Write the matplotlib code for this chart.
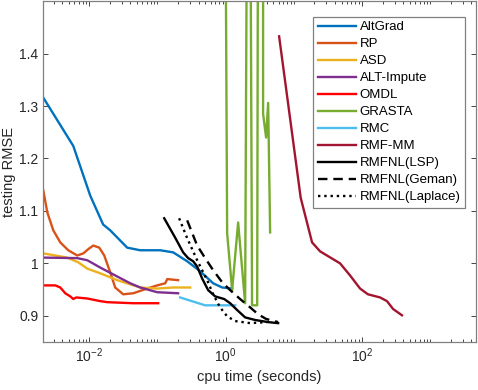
import numpy as np
import matplotlib
matplotlib.use("Agg")
import matplotlib.pyplot as plt
from matplotlib.ticker import FixedLocator, LogLocator, FuncFormatter, NullFormatter

plt.rcParams['font.family'] = ['Liberation Sans', 'DejaVu Sans']
plt.rcParams['mathtext.fontset'] = 'custom'
plt.rcParams['mathtext.rm'] = 'Liberation Sans'
plt.rcParams['mathtext.it'] = 'Liberation Sans:italic'

# cpu time (s) / testing RMSE
altgrad_t = [0.00212, 0.00583, 0.01035, 0.0160, 0.0203, 0.0360, 0.0559, 0.1097, 0.170, 0.273, 0.423, 0.656, 0.889, 1.245]
altgrad_y = [1.316, 1.224, 1.129, 1.074, 1.063, 1.030, 1.025, 1.025, 1.021, 1.004, 0.985, 0.962, 0.954, 0.952]

rp_t = [0.00212, 0.00243, 0.00297, 0.00376, 0.00492, 0.00667, 0.00817, 0.00966, 0.01145, 0.01402,
        0.0166, 0.0203, 0.0240, 0.0315, 0.0441, 0.0708, 0.0991, 0.130, 0.139, 0.201]
rp_y = [1.139, 1.097, 1.063, 1.040, 1.025, 1.015, 1.019, 1.027, 1.034, 1.030,
        1.015, 0.983, 0.954, 0.941, 0.943, 0.952, 0.958, 0.962, 0.970, 0.968]

asd_t = [0.00212, 0.00476, 0.00690, 0.00935, 0.0145, 0.0257, 0.0399, 0.0559, 0.0991, 0.170, 0.302]
asd_y = [1.019, 1.011, 1.002, 0.990, 0.981, 0.968, 0.960, 0.954, 0.952, 0.954, 0.954]

alt_t = [0.00212, 0.00667, 0.00935, 0.0145, 0.0257, 0.0399, 0.0559, 0.0991, 0.201]
alt_y = [1.011, 1.010, 1.006, 0.992, 0.975, 0.962, 0.954, 0.945, 0.943]

omdl_t = [0.00212, 0.00318, 0.00376, 0.00445, 0.00527, 0.00583, 0.00645, 0.00935, 0.0145, 0.0184, 0.0441, 0.1025]
omdl_y = [0.958, 0.958, 0.954, 0.943, 0.937, 0.932, 0.935, 0.933, 0.928, 0.926, 0.924, 0.924]

grasta_t = [0.984, 1.052, 1.245, 1.524, 1.930, 2.07, 2.29, 2.44, 2.90, 2.99, 3.54, 3.54, 3.92, 4.20, 4.49]
grasta_y = [1.8, 1.057, 0.949, 1.078, 0.924, 1.8, 1.8, 0.920, 0.920, 1.8, 1.8, 1.285, 1.240, 1.306, 1.059]

rmc_t = [0.215, 0.357, 0.501, 1.378]
rmc_y = [0.935, 0.926, 0.920, 0.920]

rmfmm_t = [6.08, 12.6, 18.5, 24.2, 47.6, 66.7, 93.5, 122, 184, 232, 285, 385]
rmfmm_y = [1.433, 1.125, 1.040, 1.023, 1.000, 0.977, 0.952, 0.941, 0.935, 0.928, 0.913, 0.901]

lsp_t = [0.1256, 0.182, 0.238, 0.282, 0.334, 0.382, 0.453, 0.554, 0.702, 0.951, 1.164, 1.474, 1.930, 2.71, 4.20, 5.88]
lsp_y = [1.086, 1.049, 1.021, 1.010, 1.004, 0.994, 0.971, 0.949, 0.937, 0.932, 0.924, 0.911, 0.897, 0.892, 0.888, 0.886]

geman_t = [0.273, 0.382, 0.501, 0.656, 0.889, 1.164, 1.630, 2.29, 2.99, 3.92, 5.88]
geman_y = [1.082, 1.034, 1.010, 0.987, 0.964, 0.949, 0.932, 0.916, 0.903, 0.894, 0.888]

laplace_t = [0.208, 0.273, 0.382, 0.536, 0.656, 0.830, 1.052, 1.378, 2.29, 4.06]
laplace_y = [1.086, 1.048, 1.006, 0.968, 0.941, 0.916, 0.899, 0.890, 0.886, 0.888]

labels = ['AltGrad', 'RP', 'ASD', 'ALT-Impute', 'OMDL', 'GRASTA', 'RMC', 'RMF-MM',
          'RMFNL(LSP)', 'RMFNL(Geman)', 'RMFNL(Laplace)']
series = [(altgrad_t, altgrad_y), (rp_t, rp_y), (asd_t, asd_y), (alt_t, alt_y),
          (omdl_t, omdl_y), (grasta_t, grasta_y), (rmc_t, rmc_y), (rmfmm_t, rmfmm_y),
          (lsp_t, lsp_y), (geman_t, geman_y), (laplace_t, laplace_y)]
colors = ['#0072BD', '#D95319', '#EDB120', '#7E2F8E', '#FF0000', '#77AC30', '#4DBEEE',
          '#A2142F', 'black', 'black', 'black']
styles = ['-'] * 9 + ['--', ':']

fig = plt.figure(figsize=(4.78, 3.9), dpi=100)
ax = fig.add_axes([0.09, 0.123, 0.906, 0.874])

for (t, y), lab, c, ls in zip(series, labels, colors, styles):
    line, = ax.plot(t, y, color=c, lw=1.7, ls=ls, label=lab)
    if ls == '--':
        line.set_dashes((4, 2.5))

ax.set_xscale('log')
ax.set_xlim(0.0021, 4700)
ax.set_ylim(0.85, 1.5)

ax.xaxis.set_major_locator(FixedLocator([1e-2, 1e0, 1e2]))
ax.xaxis.set_minor_locator(LogLocator(base=10, subs=np.arange(1, 10), numticks=30))
ax.xaxis.set_minor_formatter(NullFormatter())
ax.set_yticks([0.9, 1.0, 1.1, 1.2, 1.3, 1.4])
ax.yaxis.set_major_formatter(FuncFormatter(lambda v, p: '%g' % v))

ax.tick_params(which='both', direction='in', top=True, right=True, colors='#262626',
               labelsize=10, width=0.6)
ax.tick_params(which='major', length=3.5)
ax.tick_params(which='minor', length=2)
for sp in ax.spines.values():
    sp.set_color('#808080')
    sp.set_linewidth(0.9)

ax.set_xlabel('cpu time (seconds)', fontsize=10.5, color='#262626', labelpad=3)
ax.set_ylabel('testing RMSE', fontsize=10.5, color='#262626', labelpad=2)

leg = ax.legend(loc='upper right', bbox_to_anchor=(0.975, 0.955), fontsize=9.5,
                handlelength=2.9, handletextpad=0.3, labelspacing=0.36,
                borderpad=0.35, fancybox=False, framealpha=1, borderaxespad=0)
leg.get_frame().set_edgecolor('#808080')
leg.get_frame().set_linewidth(0.9)

fig.savefig('out.png', dpi=100)
